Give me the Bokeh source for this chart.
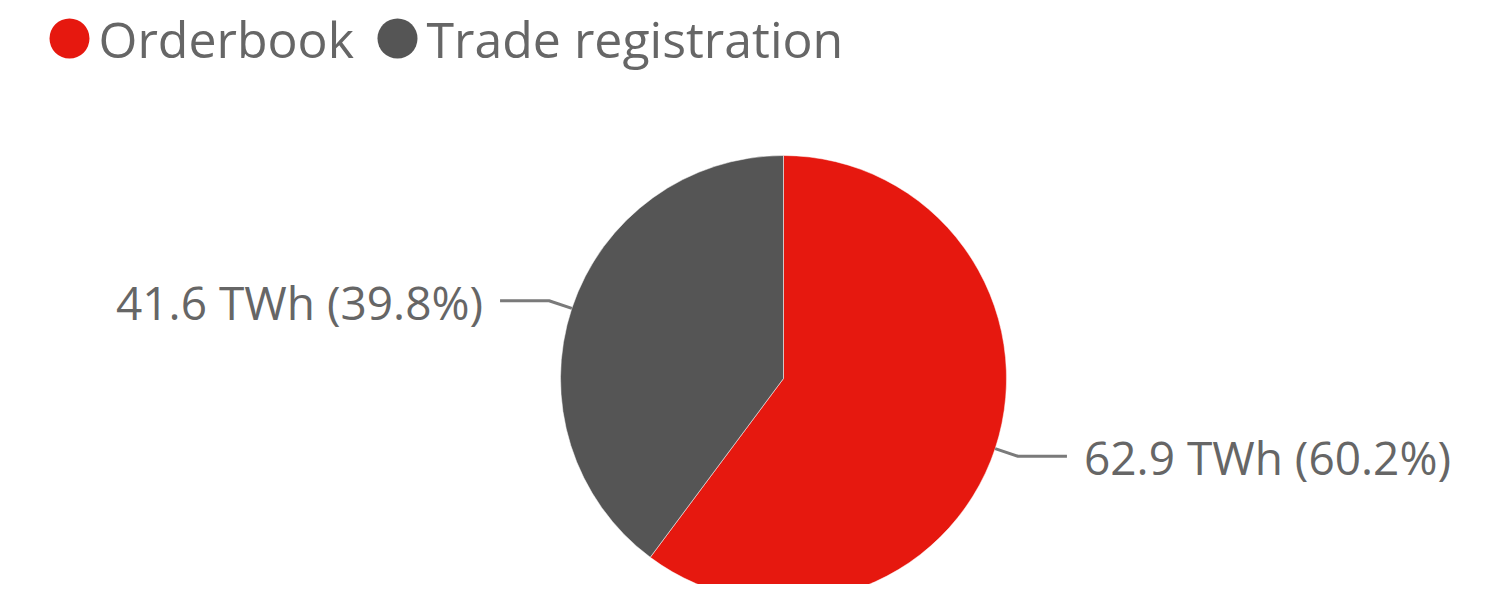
import math
from bokeh.plotting import figure
from bokeh.models import Range1d, ColumnDataSource
from bokeh.core.properties import value
from bokeh.embed import file_html
from bokeh.resources import INLINE

categories = ["Orderbook", "Trade registration"]
values_twh = [62.9, 41.6]
colors = ["#E6180F", "#555555"]

W, H = 1494, 584
TEXT_COLOR = "#666666"
FONT = "Open Sans"

# data units == screen pixels (x right, y measured up from sy=600)
p = figure(width=W, height=H, output_backend="svg", toolbar_location=None,
           x_range=Range1d(0, W), y_range=Range1d(600 - H, 600),
           min_border=0)
p.axis.visible = False
p.grid.visible = False
p.outline_line_color = None
p.background_fill_color = "white"
p.border_fill_color = "white"

def Y(sy):
    return 600 - sy

cx, cy, R = 783, Y(378), 223
total = sum(values_twh)
fr = [v / total for v in values_twh]
starts, ends, mids = [], [], []
cum = 0.0
for f in fr:
    a0 = math.pi / 2 - cum * 2 * math.pi
    a1 = math.pi / 2 - (cum + f) * 2 * math.pi
    starts.append(a0); ends.append(a1); mids.append((a0 + a1) / 2)
    cum += f

src = ColumnDataSource(dict(start=starts, end=ends, color=colors))
p.wedge(x=cx, y=cy, radius=R, radius_units="screen", start_angle="start",
        end_angle="end", direction="clock", fill_color="color",
        line_color="white", line_width=0.5, source=src)

# leader lines and labels
for v, f, m in zip(values_twh, fr, mids):
    ex, ey = cx + R * math.cos(m), cy + R * math.sin(m)
    bx, by = cx + (R + 24) * math.cos(m), cy + (R + 24) * math.sin(m)
    side = 1 if math.cos(m) > 0 else -1
    hx = bx + side * 49
    p.line([ex, bx, hx], [ey, by, by], line_color="#7A7A7A", line_width=3)
    label = f"{v:.1f} TWh ({f*100:.1f}%)"
    p.text(x=[hx + side * 17], y=[by - 1], text=[label],
           text_font=value(FONT), text_font_size="46px", text_color=TEXT_COLOR,
           text_align="left" if side > 0 else "right", text_baseline="middle")

# legend
legend_x = [69, 397]
for cat, col, lx in zip(categories, colors, legend_x):
    p.scatter(x=[lx], y=[Y(38)], size=40, marker="circle", fill_color=col, line_color=None)
    p.text(x=[lx + 29], y=[Y(38)], text=[cat], text_font=value(FONT),
           text_font_size="50px", text_color=TEXT_COLOR, text_align="left",
           text_baseline="middle")

open("out.html", "w").write(file_html(p, INLINE))
